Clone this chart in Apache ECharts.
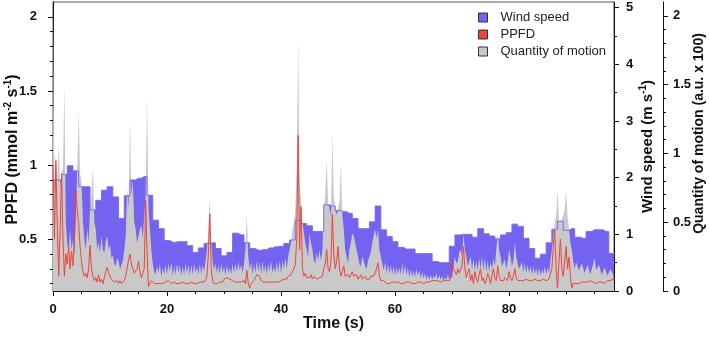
<!DOCTYPE html>
<html>
<head>
<meta charset="utf-8">
<script src="https://cdn.jsdelivr.net/npm/echarts@6/dist/echarts.min.js"></script>
<style>
  html, body { margin: 0; padding: 0; background: #fff; }
  #chart { width: 709px; height: 337px; }
</style>
</head>
<body>
<div id="chart"></div>
<script>
// wind speed (m/s), one value per second, drawn as steps
const windSpeed = [
  1.96, 1.96, 2.06, 2.21, 2.12, 1.84, 1.84, 1.43, 1.60, 1.78,
  1.84, 1.66, 1.28, 1.68, 1.96, 1.99, 2.02, 1.69, 1.25, 1.10,
  0.89, 0.86, 0.87, 0.87, 0.80, 0.68, 0.76, 0.84, 0.85, 0.75,
  0.62, 0.68, 1.02, 0.99, 0.85, 0.75, 0.72, 0.73, 0.76, 0.78,
  0.79, 0.84, 0.90, 1.25, 1.19, 1.15, 1.05, 1.05, 1.52, 1.50,
  1.42, 1.40, 1.37, 1.28, 1.10, 1.10, 1.22, 1.50, 1.08, 0.96,
  0.87, 0.77, 0.74, 0.74, 0.66, 0.66, 0.66, 0.52, 0.50, 0.50,
  0.79, 0.99, 1.00, 1.00, 0.95, 1.10, 1.01, 0.97, 0.92, 0.99,
  1.03, 1.18, 1.14, 0.93, 0.75, 0.58, 0.65, 0.85, 1.09, 1.23,
  1.07, 1.10, 0.95, 0.93, 1.05, 1.08, 1.08, 1.05, 0.66, 0.66
];
// quantity of motion (a.u. x 100), every 0.25 s (one row = 5 s)
const motion = [
  2.05,0.70,1.00,0.80, 1.07,0.75,0.85,0.90, 1.50,0.50,0.35,0.28, 0.45,0.30,0.38,0.26, 0.55,0.90,1.31,0.85,
  0.80,0.50,0.38,0.30, 0.45,0.35,0.62,0.70, 0.90,0.50,0.45,0.30, 0.35,0.28,0.40,0.30, 0.28,0.36,0.40,0.30,
  0.34,0.24,0.26,0.20, 0.18,0.24,0.22,0.16, 0.16,0.22,0.30,0.40, 0.75,0.60,1.24,0.70, 0.80,0.50,0.45,0.35,
  0.36,0.45,0.48,0.38, 0.55,0.70,1.41,0.60, 0.45,0.30,0.20,0.14, 0.12,0.18,0.13,0.20, 0.10,0.17,0.12,0.19,
  0.12,0.20,0.14,0.21, 0.11,0.18,0.12,0.20, 0.13,0.19,0.11,0.18, 0.12,0.20,0.13,0.19, 0.11,0.19,0.12,0.20,
  0.13,0.18,0.12,0.20, 0.12,0.19,0.14,0.22, 0.30,0.45,0.68,0.35, 0.22,0.15,0.20,0.13, 0.19,0.12,0.20,0.13,
  0.18,0.11,0.19,0.13, 0.17,0.12,0.20,0.13, 0.20,0.14,0.21,0.15, 0.19,0.13,0.20,0.30, 0.56,0.25,0.16,0.21,
  0.12,0.20,0.13,0.22, 0.14,0.21,0.12,0.22, 0.13,0.19,0.12,0.20, 0.14,0.22,0.13,0.18, 0.13,0.21,0.14,0.22,
  0.13,0.22,0.16,0.24, 0.16,0.25,0.30,0.35, 0.45,0.50,0.60,0.90, 1.82,0.80,0.66,0.50, 0.50,0.35,0.30,0.25,
  0.42,0.35,0.30,0.22, 0.20,0.28,0.22,0.30, 0.22,0.30,0.60,0.70, 0.95,0.65,0.60,0.55, 1.14,0.70,0.60,0.55,
  0.60,0.65,0.93,0.55, 0.45,0.30,0.25,0.20, 0.30,0.35,0.42,0.40, 0.40,0.30,0.25,0.20, 0.18,0.25,0.24,0.18,
  0.16,0.22,0.22,0.28, 0.35,0.40,0.45,0.38, 0.45,0.30,0.30,0.20, 0.15,0.21,0.13,0.20, 0.12,0.19,0.12,0.18,
  0.11,0.18,0.12,0.17, 0.12,0.20,0.12,0.19, 0.11,0.17,0.10,0.16, 0.10,0.15,0.10,0.16, 0.11,0.15,0.09,0.14,
  0.09,0.13,0.08,0.12, 0.08,0.12,0.08,0.11, 0.09,0.13,0.08,0.12, 0.08,0.11,0.07,0.10, 0.08,0.12,0.08,0.11,
  0.09,0.18,0.25,0.20, 0.22,0.28,0.30,0.25, 0.42,0.30,0.25,0.18, 0.17,0.25,0.16,0.23, 0.15,0.22,0.15,0.24,
  0.16,0.25,0.15,0.24, 0.14,0.22,0.14,0.21, 0.16,0.24,0.18,0.30, 0.42,0.30,0.25,0.18, 0.17,0.23,0.16,0.22,
  0.30,0.25,0.18,0.22, 0.35,0.25,0.20,0.16, 0.15,0.21,0.14,0.20, 0.13,0.19,0.13,0.18, 0.12,0.18,0.12,0.17,
  0.11,0.17,0.11,0.16, 0.12,0.18,0.12,0.17, 0.13,0.22,0.30,0.40, 0.50,0.55,0.73,0.50, 0.50,0.52,0.55,0.60,
  0.73,0.55,0.45,0.35, 0.30,0.22,0.16,0.21, 0.22,0.15,0.14,0.20, 0.20,0.13,0.14,0.19, 0.19,0.12,0.13,0.20,
  0.24,0.15,0.14,0.19, 0.18,0.12,0.13,0.17, 0.17,0.11,0.12,0.16, 0.15,0.12,0.12
];
// PPFD (mmol m-2 s-1), every 0.25 s (one row = 5 s)
const ppfd = [
  1.00,0.50,1.03,0.60, 0.25,0.55,0.94,0.50, 0.25,0.40,0.33,0.45, 0.30,0.42,0.32,0.50, 0.83,0.70,0.60,0.45,
  0.35,0.28,0.25,0.27, 0.24,0.30,0.46,0.30, 0.25,0.22,0.24,0.21, 0.26,0.21,0.23,0.20, 0.24,0.28,0.31,0.27,
  0.27,0.23,0.22,0.21, 0.21,0.22,0.20,0.22, 0.20,0.21,0.22,0.25, 0.30,0.36,0.40,0.33, 0.30,0.27,0.26,0.30,
  0.35,0.28,0.24,0.27, 0.30,0.76,0.40,0.18, 0.20,0.22,0.21,0.20, 0.21,0.20,0.21,0.20, 0.21,0.20,0.20,0.21,
  0.21,0.22,0.21,0.20, 0.20,0.21,0.20,0.20, 0.21,0.20,0.20,0.21, 0.20,0.20,0.21,0.20, 0.20,0.21,0.20,0.20,
  0.21,0.20,0.20,0.21, 0.20,0.21,0.21,0.22, 0.25,0.40,0.67,0.30, 0.22,0.20,0.21,0.20, 0.20,0.21,0.20,0.21,
  0.23,0.24,0.24,0.23, 0.23,0.22,0.22,0.21, 0.21,0.22,0.21,0.22, 0.21,0.21,0.22,0.20, 0.29,0.20,0.17,0.20,
  0.21,0.22,0.24,0.26, 0.27,0.25,0.22,0.21, 0.21,0.22,0.21,0.20, 0.21,0.22,0.21,0.22, 0.21,0.20,0.21,0.22,
  0.22,0.21,0.23,0.22, 0.23,0.25,0.24,0.26, 0.27,0.30,0.33,0.50, 1.20,0.43,0.72,0.30, 0.25,0.27,0.24,0.23,
  0.24,0.26,0.23,0.25, 0.26,0.23,0.22,0.24, 0.23,0.25,0.30,0.33, 0.43,0.30,0.28,0.35, 0.67,0.40,0.30,0.35,
  0.45,0.30,0.25,0.28, 0.32,0.25,0.24,0.26, 0.24,0.26,0.28,0.25, 0.24,0.26,0.23,0.24, 0.26,0.23,0.24,0.25,
  0.23,0.24,0.23,0.25, 0.26,0.25,0.27,0.30, 0.34,0.25,0.22,0.21, 0.22,0.21,0.20,0.21, 0.20,0.21,0.21,0.20,
  0.21,0.20,0.21,0.20, 0.20,0.21,0.20,0.21, 0.21,0.20,0.21,0.21, 0.20,0.21,0.20,0.20, 0.21,0.20,0.21,0.20,
  0.20,0.21,0.21,0.20, 0.21,0.21,0.22,0.21, 0.22,0.21,0.22,0.22, 0.21,0.22,0.22,0.21, 0.22,0.23,0.22,0.24,
  0.34,0.30,0.28,0.26, 0.30,0.27,0.28,0.32, 0.45,0.30,0.24,0.28, 0.30,0.22,0.26,0.20, 0.28,0.23,0.21,0.26,
  0.30,0.22,0.24,0.20, 0.22,0.27,0.24,0.20, 0.26,0.30,0.24,0.22, 0.32,0.25,0.22,0.23, 0.22,0.24,0.23,0.22,
  0.28,0.24,0.22,0.25, 0.30,0.24,0.22,0.23, 0.22,0.23,0.22,0.22, 0.23,0.22,0.22,0.23, 0.22,0.22,0.23,0.22,
  0.22,0.23,0.22,0.22, 0.23,0.22,0.22,0.23, 0.23,0.24,0.30,0.45, 0.56,0.30,0.17,0.35, 0.50,0.30,0.25,0.35,
  0.45,0.30,0.38,0.25, 0.17,0.20,0.21,0.20, 0.21,0.20,0.21,0.21, 0.20,0.21,0.22,0.21, 0.21,0.22,0.21,0.21,
  0.21,0.20,0.21,0.21, 0.20,0.21,0.21,0.20, 0.21,0.22,0.22,0.22, 0.22,0.23,0.23
];
const sampleStep = 0.25;

// tick labels
const timeTicks = [0, 20, 40, 60, 80];
const timeMinor = [5, 10, 15, 25, 30, 35, 45, 50, 55, 65, 70, 75, 85, 90, 95];
const ppfdTicks = [0.5, 1, 1.5, 2];
const ppfdMinor = [0.2, 0.3, 0.4, 0.6, 0.7, 0.8, 0.9, 1.1, 1.2, 1.3, 1.4, 1.6, 1.7, 1.8, 1.9];
const windTicks = [0, 1, 2, 3, 4, 5];
const windMinor = [0.5, 1.5, 2.5, 3.5, 4.5];
const motionTicks = [0, 0.5, 1, 1.5, 2];
const motionMinor = [0.1, 0.2, 0.3, 0.4, 0.6, 0.7, 0.8, 0.9, 1.1, 1.2, 1.3, 1.4, 1.6, 1.7, 1.8, 1.9];

const purple = '#7462f0';
const red = '#e8463e';
const grey = '#c9c9c9';
const font = 'Liberation Sans, Arial, sans-serif';

const windData = windSpeed.map((v, i) => [i, v]);
const motionData = motion.map((v, i) => [i * sampleStep, v]);
const ppfdData = ppfd.map((v, i) => [i * sampleStep, v]);

const chart = echarts.init(document.getElementById('chart'));

const labelStyle = { color: '#111', fontWeight: 'bold', fontSize: 13, fontFamily: font };
function nameStyle(size, pad) {
  return {
    color: '#111', fontWeight: 'bold', fontSize: size, fontFamily: font, padding: pad || 0,
    rich: { s: { fontSize: 10, fontWeight: 'bold', fontFamily: font, color: '#111', padding: [0, 0, 9, 0] } }
  };
}

// main axis with big ticks + labels
function mainY(pos, min, max, ticks, margin, name, gap, nStyle, offset) {
  return {
    type: 'value', position: pos, offset: offset || 0, min: min, max: max,
    axisLine: { show: true, onZero: false, lineStyle: { color: '#111', width: 1 } },
    axisTick: { show: true, inside: false, length: 5, customValues: ticks, lineStyle: { color: '#111' } },
    axisLabel: { show: true, margin: margin, customValues: ticks, ...labelStyle },
    splitLine: { show: false },
    name: name, nameLocation: 'middle', nameGap: gap, nameRotate: 90, nameMoveOverlap: false,
    nameTextStyle: nStyle
  };
}
// overlay axis that only draws the small ticks
function minorY(pos, min, max, ticks, offset) {
  return {
    type: 'value', position: pos, offset: offset || 0, min: min, max: max,
    axisLine: { show: false, onZero: false },
    axisTick: { show: true, length: 3, customValues: ticks, lineStyle: { color: '#111' } },
    axisLabel: { show: false },
    splitLine: { show: false }
  };
}

const option = {
  animation: false,
  backgroundColor: '#fff',
  grid: { left: 53, right: 95, top: 2, bottom: 46, show: true, borderColor: '#555', borderWidth: 1,
    containLabel: false, outerBoundsMode: 'none' },
  legend: {
    data: ['Wind speed', 'PPFD', 'Quantity of motion'],
    orient: 'vertical', left: 478, top: 11, padding: 0,
    icon: 'rect', itemWidth: 9, itemHeight: 9, itemGap: 4,
    itemStyle: { borderColor: '#333', borderWidth: 1 },
    textStyle: { color: '#222', fontSize: 13, fontFamily: font, padding: [0, 0, 0, 8] }
  },
  xAxis: [
    {
      type: 'value', min: 0, max: 98.4, position: 'bottom',
      axisLine: { show: true, onZero: false, lineStyle: { color: '#111' } },
      axisTick: { show: true, length: 5, customValues: timeTicks, lineStyle: { color: '#111' } },
      axisLabel: { show: true, margin: 12, customValues: timeTicks, ...labelStyle },
      splitLine: { show: false },
      name: 'Time (s)', nameLocation: 'middle', nameGap: 25, nameMoveOverlap: false,
      nameTextStyle: nameStyle(16)
    },
    {
      type: 'value', min: 0, max: 98.4, position: 'bottom',
      axisLine: { show: false, onZero: false },
      axisTick: { show: true, length: 3, customValues: timeMinor, lineStyle: { color: '#111' } },
      axisLabel: { show: false },
      splitLine: { show: false }
    }
  ],
  yAxis: [
    mainY('left', 0.15, 2.1, ppfdTicks, 16, 'PPFD (mmol m{s|-2} s{s|-1})', 31, nameStyle(16, [0, 6, 0, 0])),
    mainY('right', 0, 5.1, windTicks, 12, 'Wind speed (m s{s|-1})', 24, nameStyle(15)),
    mainY('right', 0, 2.1, motionTicks, 10, 'Quantity of motion (a.u. x 100)', 29, nameStyle(14, [0, 0, 0, 26]), 49),
    minorY('left', 0.15, 2.1, ppfdMinor),
    minorY('right', 0, 5.1, windMinor),
    minorY('right', 0, 2.1, motionMinor, 49)
  ],
  series: [
    {
      name: 'Wind speed', type: 'line', yAxisIndex: 1, step: 'middle', data: windData,
      showSymbol: false, symbol: 'none', lineStyle: { width: 0 },
      itemStyle: { color: purple }, areaStyle: { color: purple, opacity: 1 }, z: 1
    },
    {
      name: 'Quantity of motion', type: 'line', yAxisIndex: 2, data: motionData,
      showSymbol: false, symbol: 'none', lineStyle: { width: 0 },
      itemStyle: { color: grey }, areaStyle: { color: grey, opacity: 1 }, z: 2
    },
    {
      name: 'wind edge', type: 'line', yAxisIndex: 1, step: 'middle', data: windData,
      showSymbol: false, symbol: 'none', lineStyle: { width: 1, color: '#7c6ff2' }, silent: true, z: 3
    },
    {
      name: 'PPFD', type: 'line', yAxisIndex: 0, data: ppfdData,
      showSymbol: false, symbol: 'none', lineStyle: { width: 1, color: red },
      itemStyle: { color: red }, z: 4
    }
  ]
};
chart.setOption(option);
</script>
</body>
</html>
